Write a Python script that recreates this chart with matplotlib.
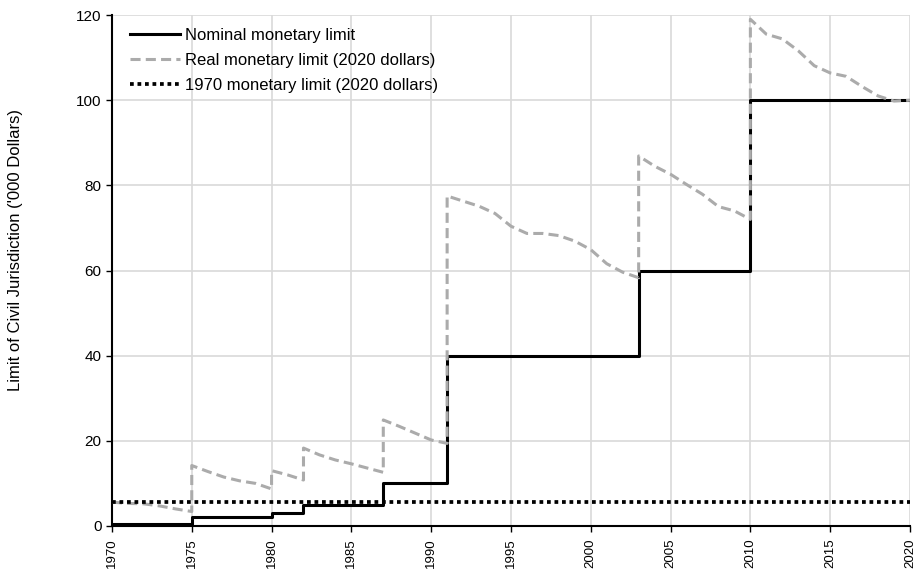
import matplotlib
matplotlib.use("Agg")
import matplotlib.pyplot as plt

# nominal limit, step changes ('000 dollars)
nomYears = [1970, 1975, 1980, 1982, 1987, 1991, 2003, 2010, 2020]
nomLimit = [0.5, 2, 3, 5, 10, 40, 60, 100, 100]

# real limit in 2020 dollars, yearly (jump years appear twice)
realYears = [1970, 1971, 1972, 1973, 1974, 1975,
             1975, 1976, 1977, 1978, 1979, 1980,
             1980, 1981, 1982,
             1982, 1983, 1984, 1985, 1986, 1987,
             1987, 1988, 1989, 1990, 1991,
             1991, 1992, 1993, 1994, 1995, 1996, 1997, 1998, 1999, 2000, 2001, 2002, 2003,
             2003, 2004, 2005, 2006, 2007, 2008, 2009, 2010,
             2010, 2011, 2012, 2013, 2014, 2015, 2016, 2017, 2018, 2019, 2020]
realLimit = [5.6, 5.3, 5.2, 4.7, 4.0, 3.4,
             14.2, 12.8, 11.5, 10.6, 10.0, 8.7,
             13.0, 12.0, 10.8,
             18.3, 16.7, 15.5, 14.6, 13.6, 12.6,
             24.9, 23.4, 21.8, 20.2, 19.4,
             77.5, 76.3, 75.1, 73.4, 70.4, 68.7, 68.7, 68.2, 66.9, 64.9, 61.6, 59.6, 58.3,
             86.9, 84.5, 82.6, 80.2, 77.9, 75.0, 74.0, 72.0,
             119.0, 115.5, 114.4, 111.6, 108.1, 106.4, 105.6, 103.2, 101.0, 99.8, 100.0]

limit1970 = 5.7

plt.rcParams['font.family'] = ['Liberation Sans', 'DejaVu Sans']

fig = plt.figure(figsize=(9.14, 5.69), dpi=100)
ax = fig.add_axes([0.1225, 0.0756, 0.8731, 0.898])

ax.step(nomYears, nomLimit, where='post', color='black', linewidth=2.2,
        label='Nominal monetary limit', zorder=3)
ax.plot(realYears, realLimit, color='#ABABAB', linewidth=2.2, dashes=(3.3, 1.7),
        label='Real monetary limit (2020 dollars)', zorder=4)
ax.axhline(limit1970, color='black', linewidth=2.7, dashes=(1, 1),
           label='1970 monetary limit (2020 dollars)', zorder=5)

ax.set_xlim(1970, 2020)
ax.set_ylim(0, 120)
ax.set_xticks(range(1970, 2021, 5))
ax.set_yticks(range(0, 121, 20))
ax.tick_params(axis='x', labelrotation=90, labelsize=9.5, length=4, width=1, pad=5)
ax.tick_params(axis='y', labelsize=11, length=4, width=1)
ax.grid(True, color='#D9D9D9', linewidth=1.2)
ax.set_axisbelow(True)
for s in ['top', 'right']:
    ax.spines[s].set_visible(False)
for s in ['left', 'bottom']:
    ax.spines[s].set_linewidth(1.5)
    ax.spines[s].set_color('black')

ax.set_ylabel("Limit of Civil Jurisdiction ('000 Dollars)", fontsize=12)
ax.yaxis.set_label_coords(-0.112, 0.54)

ax.legend(loc='upper left', frameon=False, fontsize=12, handlelength=3.0,
          handletextpad=0.3, labelspacing=0.6, borderaxespad=0.2,
          bbox_to_anchor=(0.01, 0.995))

fig.savefig('out.png', dpi=100)
